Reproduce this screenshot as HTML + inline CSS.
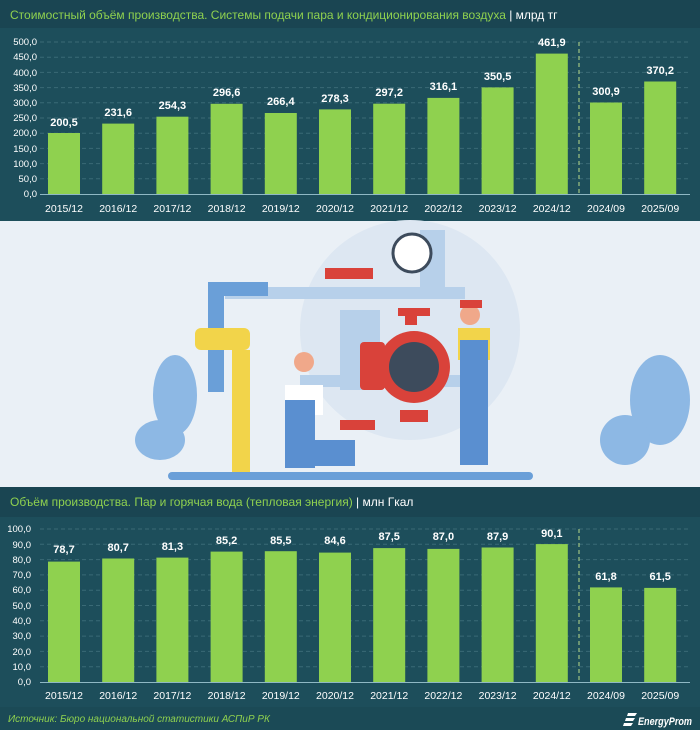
<!DOCTYPE html><html><head><meta charset="utf-8"><style>body{margin:0;background:#1d4e5b}svg{display:block}text{font-family:"Liberation Sans",sans-serif}</style></head><body>
<svg width="700" height="730" viewBox="0 0 700 730" xmlns="http://www.w3.org/2000/svg">
<rect width="700" height="730" fill="#1d4e5b"/>
<rect width="700" height="28" fill="#1a4552"/>
<text x="10" y="19" font-size="12" fill="#8fd14f">Стоимостный объём производства. Системы подачи пара и кондиционирования воздуха <tspan fill="#fff">| млрд тг</tspan></text>
<g stroke="#3a6a76" stroke-dasharray="4,3" stroke-width="1">
<line x1="40" x2="690" y1="178.8" y2="178.8"/><line x1="40" x2="690" y1="163.6" y2="163.6"/><line x1="40" x2="690" y1="148.4" y2="148.4"/><line x1="40" x2="690" y1="133.2" y2="133.2"/><line x1="40" x2="690" y1="118" y2="118"/><line x1="40" x2="690" y1="102.8" y2="102.8"/><line x1="40" x2="690" y1="87.6" y2="87.6"/><line x1="40" x2="690" y1="72.4" y2="72.4"/><line x1="40" x2="690" y1="57.2" y2="57.2"/><line x1="40" x2="690" y1="42" y2="42"/>
</g>
<line x1="579" x2="579" y1="42" y2="194" stroke="#b9d98a" stroke-dasharray="4,3"/>
<g font-size="9.5" fill="#fff" text-anchor="end">
<text x="37" y="197">0,0</text><text x="37" y="182">50,0</text><text x="37" y="167">100,0</text><text x="37" y="152">150,0</text><text x="37" y="136">200,0</text><text x="37" y="121">250,0</text><text x="37" y="106">300,0</text><text x="37" y="91">350,0</text><text x="37" y="76">400,0</text><text x="37" y="60">450,0</text><text x="37" y="45">500,0</text>
</g>
<g fill="#8fd14f">
<rect x="48" y="133" width="32" height="61"/><rect x="102.2" y="123.6" width="32" height="70.4"/><rect x="156.4" y="116.7" width="32" height="77.3"/><rect x="210.6" y="103.8" width="32" height="90.2"/><rect x="264.8" y="113" width="32" height="81"/><rect x="319" y="109.4" width="32" height="84.6"/><rect x="373.2" y="103.7" width="32" height="90.3"/><rect x="427.4" y="97.9" width="32" height="96.1"/><rect x="481.6" y="87.4" width="32" height="106.6"/><rect x="535.8" y="53.6" width="32" height="140.4"/><rect x="590" y="102.5" width="32" height="91.5"/><rect x="644.2" y="81.5" width="32" height="112.5"/>
</g>
<line x1="40" x2="690" y1="194.5" y2="194.5" stroke="#8fb8c4"/>
<g font-size="11" font-weight="bold" fill="#fff" text-anchor="middle">
<text x="64" y="126">200,5</text><text x="118.2" y="116">231,6</text><text x="172.4" y="109">254,3</text><text x="226.6" y="96">296,6</text><text x="280.8" y="105">266,4</text><text x="335" y="102">278,3</text><text x="389.2" y="96">297,2</text><text x="443.4" y="90">316,1</text><text x="497.6" y="80">350,5</text><text x="551.8" y="46">461,9</text><text x="606" y="95">300,9</text><text x="660.2" y="74">370,2</text>
</g>
<g font-size="10.5" fill="#fff" text-anchor="middle">
<text x="64" y="212">2015/12</text><text x="118.2" y="212">2016/12</text><text x="172.4" y="212">2017/12</text><text x="226.6" y="212">2018/12</text><text x="280.8" y="212">2019/12</text><text x="335" y="212">2020/12</text><text x="389.2" y="212">2021/12</text><text x="443.4" y="212">2022/12</text><text x="497.6" y="212">2023/12</text><text x="551.8" y="212">2024/12</text><text x="606" y="212">2024/09</text><text x="660.2" y="212">2025/09</text>
</g>
<rect x="0" y="221" width="700" height="266" fill="#eaf0f6"/>
<circle cx="410" cy="330" r="110" fill="#dde7f2"/>
<g fill="#b7d0ea">
<rect x="225" y="287" width="240" height="12"/><rect x="300" y="375" width="180" height="12"/><rect x="340" y="310" width="40" height="80"/><rect x="420" y="230" width="25" height="60"/>
</g>
<g fill="#8db8e4"><ellipse cx="175" cy="395" rx="22" ry="40"/><ellipse cx="660" cy="400" rx="30" ry="45"/><ellipse cx="160" cy="440" rx="25" ry="20"/><ellipse cx="625" cy="440" rx="25" ry="25"/></g>
<rect x="208" y="282" width="16" height="110" fill="#6a9fd8"/>
<rect x="208" y="282" width="60" height="14" fill="#6a9fd8"/>
<rect x="195" y="328" width="55" height="22" rx="6" fill="#f2d44a"/>
<rect x="232" y="350" width="18" height="125" fill="#f2d44a"/>
<rect x="325" y="268" width="48" height="11" fill="#d9423a"/>
<circle cx="412" cy="253" r="19" fill="#fff" stroke="#3d4b5c" stroke-width="3"/>
<rect x="405" y="310" width="12" height="15" fill="#d9423a"/>
<rect x="398" y="308" width="32" height="8" fill="#d9423a"/>
<rect x="400" y="410" width="28" height="12" fill="#d9423a"/>
<circle cx="414" cy="367" r="36" fill="#d9423a"/>
<circle cx="414" cy="367" r="25" fill="#3d4b5c"/>
<rect x="360" y="342" width="25" height="48" rx="4" fill="#d9423a"/>
<rect x="340" y="420" width="35" height="10" fill="#d9423a"/>
<rect x="168" y="472" width="365" height="8" rx="4" fill="#6a9fd8"/>
<rect x="285" y="385" width="38" height="30" fill="#fff"/>
<rect x="285" y="400" width="30" height="68" fill="#5a8fd0"/>
<rect x="285" y="440" width="70" height="26" fill="#5a8fd0"/>
<circle cx="304" cy="362" r="10" fill="#f0a88a"/>
<rect x="458" y="328" width="32" height="32" fill="#f2d44a"/>
<rect x="460" y="340" width="28" height="125" fill="#5a8fd0"/>
<circle cx="470" cy="315" r="10" fill="#f0a88a"/>
<rect x="460" y="300" width="22" height="8" fill="#d9423a"/>
<rect x="0" y="487" width="700" height="30" fill="#1a4552"/>
<text x="10" y="506" font-size="12" fill="#8fd14f">Объём производства. Пар и горячая вода (тепловая энергия) <tspan fill="#fff">| млн Гкал</tspan></text>
<g stroke="#3a6a76" stroke-dasharray="4,3" stroke-width="1">
<line x1="40" x2="690" y1="666.7" y2="666.7"/><line x1="40" x2="690" y1="651.4" y2="651.4"/><line x1="40" x2="690" y1="636.1" y2="636.1"/><line x1="40" x2="690" y1="620.8" y2="620.8"/><line x1="40" x2="690" y1="605.5" y2="605.5"/><line x1="40" x2="690" y1="590.2" y2="590.2"/><line x1="40" x2="690" y1="574.9" y2="574.9"/><line x1="40" x2="690" y1="559.6" y2="559.6"/><line x1="40" x2="690" y1="544.3" y2="544.3"/><line x1="40" x2="690" y1="529" y2="529"/>
</g>
<line x1="579" x2="579" y1="529" y2="682" stroke="#b9d98a" stroke-dasharray="4,3"/>
<g font-size="9.5" fill="#fff" text-anchor="end">
<text x="31" y="685">0,0</text><text x="31" y="670">10,0</text><text x="31" y="655">20,0</text><text x="31" y="639">30,0</text><text x="31" y="624">40,0</text><text x="31" y="609">50,0</text><text x="31" y="593">60,0</text><text x="31" y="578">70,0</text><text x="31" y="563">80,0</text><text x="31" y="548">90,0</text><text x="31" y="532">100,0</text>
</g>
<g fill="#8fd14f">
<rect x="48" y="561.6" width="32" height="120.4"/><rect x="102.2" y="558.5" width="32" height="123.5"/><rect x="156.4" y="557.6" width="32" height="124.4"/><rect x="210.6" y="551.6" width="32" height="130.4"/><rect x="264.8" y="551.2" width="32" height="130.8"/><rect x="319" y="552.6" width="32" height="129.4"/><rect x="373.2" y="548.1" width="32" height="133.9"/><rect x="427.4" y="548.9" width="32" height="133.1"/><rect x="481.6" y="547.5" width="32" height="134.5"/><rect x="535.8" y="544.1" width="32" height="137.9"/><rect x="590" y="587.4" width="32" height="94.6"/><rect x="644.2" y="587.9" width="32" height="94.1"/>
</g>
<line x1="40" x2="690" y1="682.5" y2="682.5" stroke="#8fb8c4"/>
<g font-size="11" font-weight="bold" fill="#fff" text-anchor="middle">
<text x="64" y="553">78,7</text><text x="118.2" y="551">80,7</text><text x="172.4" y="550">81,3</text><text x="226.6" y="544">85,2</text><text x="280.8" y="544">85,5</text><text x="335" y="544">84,6</text><text x="389.2" y="540">87,5</text><text x="443.4" y="540">87,0</text><text x="497.6" y="540">87,9</text><text x="551.8" y="537">90,1</text><text x="606" y="580">61,8</text><text x="660.2" y="580">61,5</text>
</g>
<g font-size="10.5" fill="#fff" text-anchor="middle">
<text x="64" y="699">2015/12</text><text x="118.2" y="699">2016/12</text><text x="172.4" y="699">2017/12</text><text x="226.6" y="699">2018/12</text><text x="280.8" y="699">2019/12</text><text x="335" y="699">2020/12</text><text x="389.2" y="699">2021/12</text><text x="443.4" y="699">2022/12</text><text x="497.6" y="699">2023/12</text><text x="551.8" y="699">2024/12</text><text x="606" y="699">2024/09</text><text x="660.2" y="699">2025/09</text>
</g>
<rect x="0" y="707" width="700" height="23" fill="#1b4a56"/>
<text x="8" y="722" font-size="10" font-style="italic" fill="#8fd14f">Источник: Бюро национальной статистики АСПиР РК</text>
<path d="M628 713h9l-2 3h-8zM626 718h9l-2 3h-8zM624 723h9l-2 3h-8z" fill="#fff"/>
<text x="638" y="725" font-size="11" font-weight="bold" font-style="italic" fill="#fff" textLength="54" lengthAdjust="spacingAndGlyphs">EnergyProm</text>
</svg>
</body></html>
